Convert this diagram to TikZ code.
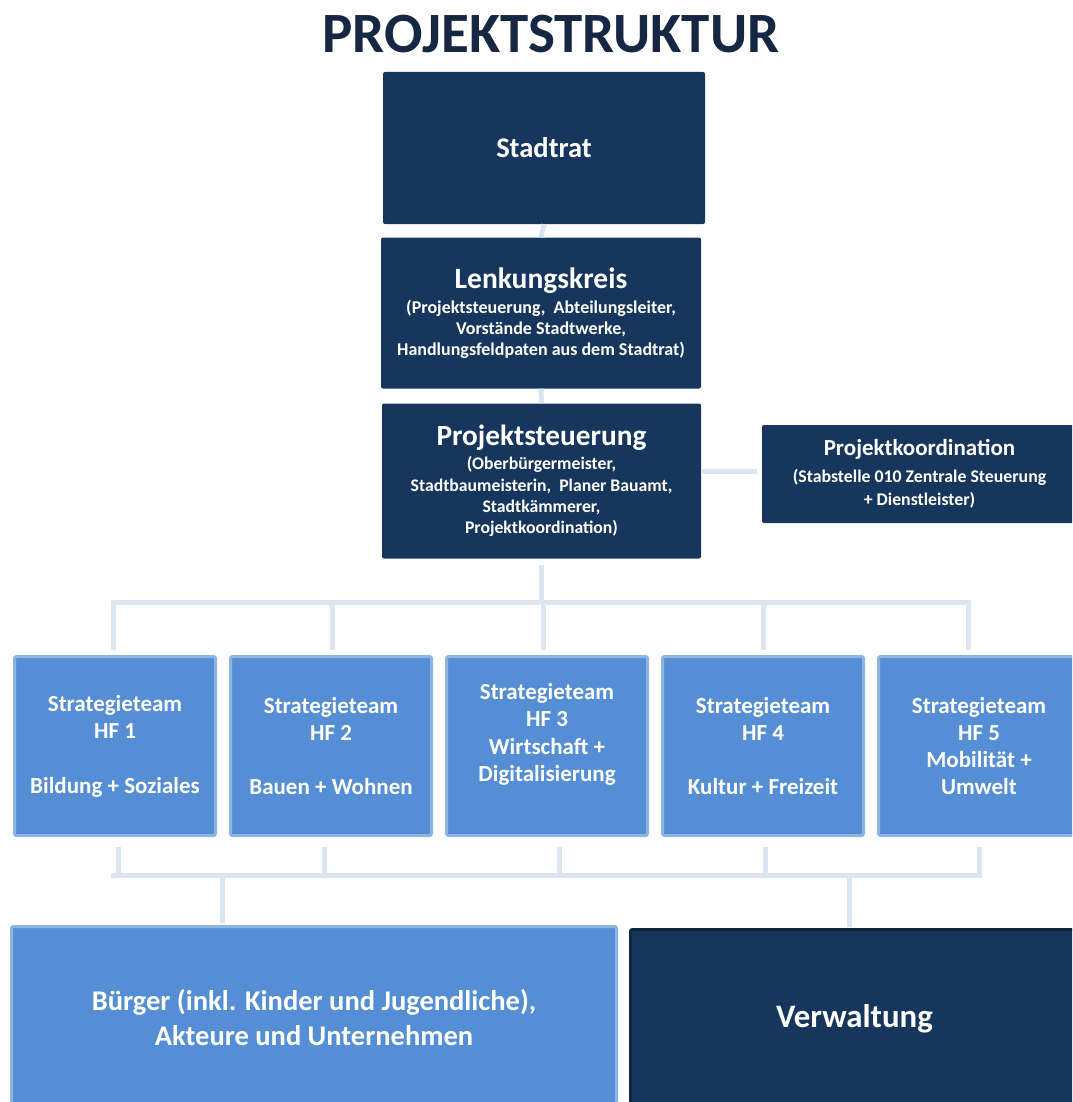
\documentclass[tikz,border=0pt]{standalone}
\usepackage{fontspec}
\setmainfont{Carlito}
\begin{document}
\begin{tikzpicture}[x=1pt,y=-1pt,
    darkbox/.style={fill=navy, draw=none, rounded corners=2pt, text=white, align=center, inner sep=0pt},
    lightbox/.style={fill=skyblue, draw=skyline, line width=3pt, rounded corners=2pt, text=white, align=center, inner sep=0pt},
    teambox/.style={lightbox, minimum width=201pt, minimum height=179pt, font=\bfseries\fontsize{23}{27.3}\selectfont},
    conn/.style={draw=linkblue, line width=5pt}]
        % Define colors
        \definecolor{navy}{RGB}{23,54,93}
        \definecolor{titlenavy}{RGB}{21,39,66}
        \definecolor{skyblue}{RGB}{85,142,213}
        \definecolor{skyline}{RGB}{142,180,227}
        \definecolor{linkblue}{RGB}{220,230,242}
        \definecolor{navyline}{RGB}{16,37,63}

        % Page frame
        \clip (0,0) rectangle (1072,1102);

        % Title
        \node[font=\bfseries\fontsize{57}{60}\selectfont, text=titlenavy] (title) at (551,34) {PROJEKTSTRUKTUR};

        % Upper chain
        \node[darkbox, minimum width=322pt, minimum height=152pt, font=\bfseries\fontsize{28.5}{32}\selectfont] (stadtrat) at (544,148) {Stadtrat};
        \node[darkbox, minimum width=320pt, minimum height=151pt, font=\bfseries\fontsize{18}{21}\selectfont] (lenkung) at (541,313)
            {{\fontsize{29.5}{32}\selectfont Lenkungskreis}\\[4pt](Projektsteuerung,\ \ Abteilungsleiter,\\Vorstände Stadtwerke,\\Handlungsfeldpaten aus dem Stadtrat)};
        \node[darkbox, minimum width=319pt, minimum height=155pt, font=\bfseries\fontsize{17.7}{21.3}\selectfont] (steuer) at (541.5,481)
            {{\fontsize{29.3}{32}\selectfont Projektsteuerung}\\[3pt](Oberbürgermeister,\\Stadtbaumeisterin,\ \ Planer Bauamt,\\Stadtkämmerer,\\Projektkoordination)};
        \node[darkbox, minimum width=315pt, minimum height=98pt, font=\bfseries\fontsize{17.8}{23}\selectfont] (koord) at (919.5,474)
            {{\fontsize{23}{25}\selectfont Projektkoordination}\\[4pt](Stabstelle 010 Zentrale Steuerung\\+ Dienstleister)};

        % Strategy teams
        \node[teambox] (team1) at (115,746) {Strategieteam\\HF 1\\[27.3pt]Bildung + Soziales};
        \node[teambox] (team2) at (331,746) {Strategieteam\\HF 2\\[27.3pt]Bauen + Wohnen};
        \node[teambox] (team3) at (547,746) {Strategieteam\\HF 3\\Wirtschaft +\\Digitalisierung\\};
        \node[teambox] (team4) at (763,746) {Strategieteam\\HF 4\\[27.3pt]Kultur + Freizeit};
        \node[teambox] (team5) at (979,746) {Strategieteam\\HF 5\\Mobilität +\\Umwelt};

        % Connector feet (small offsets as in the chart)
        \foreach \i/\dxa/\dxb in {1/-2/3, 2/1/-7, 3/-4/12, 4/0/2, 5/-11/0} {
            \path (team\i.north) ++(\dxa,-5) coordinate (up\i);
            \path (team\i.south) ++(\dxb,10) coordinate (down\i);
        }

        % Lower boxes
        \node[lightbox, minimum width=605pt, minimum height=182pt, font=\bfseries\fontsize{28.5}{35}\selectfont] (buerger) at (314,1017.5)
            {Bürger (inkl. Kinder und Jugendliche),\\Akteure und Unternehmen};
        \node[darkbox, draw=navyline, line width=3pt, minimum width=448pt, minimum height=179pt, font=\bfseries\fontsize{32.8}{36}\selectfont] (verwaltung) at (854.5,1019) {Verwaltung};

        % Connectors upper chain
        \draw[conn] (stadtrat.south) -- (lenkung.north);
        \draw[conn] (lenkung.south) -- (steuer.north);
        \draw[conn] ([yshift=3pt]steuer.east |- koord.west) -- ([xshift=-5pt,yshift=3pt]koord.west);

        % Upper bus
        \coordinate (topbus) at (541.5,602);
        \draw[conn] ([yshift=-6pt]steuer.south) -- (steuer.south |- topbus);
        \draw[conn] ([xshift=-2.5pt]up1 |- topbus) -- ([xshift=2.5pt]up5 |- topbus);
        \foreach \i in {1,...,5}
            \draw[conn] (up\i |- topbus) -- (up\i);

        % Lower bus
        \coordinate (lowbus) at (547,875.5);
        \foreach \i in {1,...,5}
            \draw[conn] (down\i) -- (down\i |- lowbus);
        \draw[conn] ([xshift=-7.5pt]down1 |- lowbus) -- ([xshift=2.5pt]down5 |- lowbus);
        \draw[conn] ([xshift=-92pt]buerger.north |- lowbus) -- ([xshift=-92pt,yshift=2pt]buerger.north);
        \draw[conn] ([xshift=-5pt]verwaltung.north |- lowbus) -- ([xshift=-5pt,yshift=1pt]verwaltung.north);
\end{tikzpicture}
\end{document}
